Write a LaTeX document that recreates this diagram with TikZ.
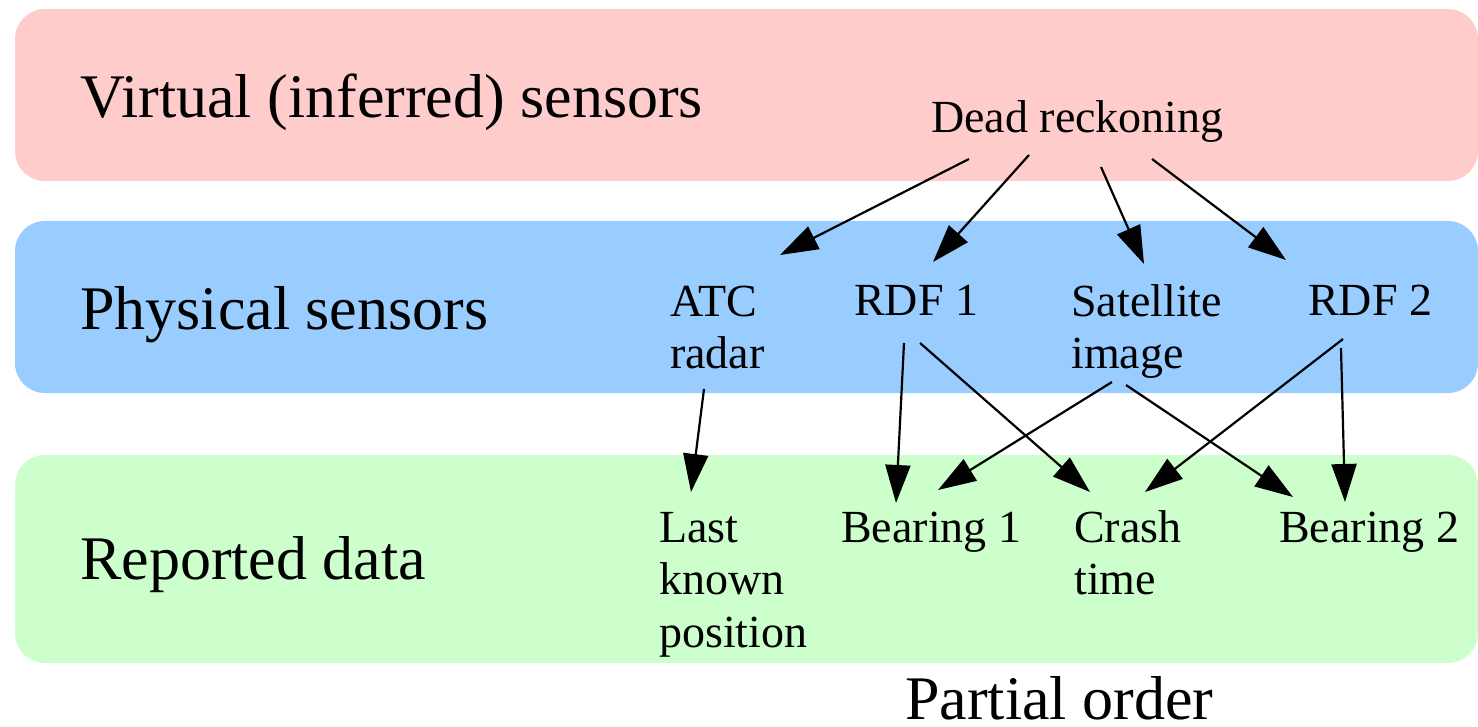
\documentclass[tikz,border=0pt]{standalone}
\usepackage{fontspec}
\setmainfont{Liberation Serif}
\usetikzlibrary{arrows.meta}
\definecolor{virtualband}{HTML}{FFCCCC}
\definecolor{physband}{HTML}{99CCFF}
\definecolor{reportband}{HTML}{CCFFCC}
\tikzset{
  band/.style={rounded corners=30pt},
  bandlabel/.style={anchor=base west, inner sep=0pt, font=\fontsize{62}{74}\selectfont},
  item/.style={anchor=base west, inner sep=0pt, align=left, font=\fontsize{46}{52.5}\selectfont},
  arr/.style={line width=2.2pt, -{Triangle[length=38pt, width=25pt]}}
}
\begin{document}
\begin{tikzpicture}[x=1pt, y=-1pt]
\useasboundingbox (0,0) rectangle (1478,727);
% bands
\fill[virtualband, band] (15,9) rectangle (1478,181);
\fill[physband, band] (15,221) rectangle (1478,393);
\fill[reportband, band] (15,455) rectangle (1478,663);
% band labels
\node[bandlabel] (vlab) at (80,118) {Virtual (inferred) sensors};
\node[bandlabel] (plab) at (80,330) {Physical sensors};
\node[bandlabel] (rlab) at (80,579) {Reported data};
\node[bandlabel] (po) at (905,719) {Partial order};
% items (multi-line nodes are anchored at the baseline of their last line)
\node[item] (dr) at (931,133) {Dead reckoning};
\node[item] (atc) at (670,368.5) {ATC\\radar};
\node[item] (rdf1) at (854,316) {RDF 1};
\node[item] (sat) at (1071,368.5) {Satellite\\image};
\node[item] (rdf2) at (1308,316) {RDF 2};
\node[item] (last) at (659,647) {Last\\known\\position};
\node[item] (b1) at (841,542) {Bearing 1};
\node[item] (crash) at (1074,594.5) {Crash\\time};
\node[item] (b2) at (1279,542) {Bearing 2};
% connectors
\draw[arr] ([shift={(38,26)}]dr.base west) -- ([shift={(110,-113.5)}]atc.base west);
\draw[arr] ([shift={(98,22)}]dr.base west) -- ([shift={(79,-54)}]rdf1.base west);
\draw[arr] ([shift={(170,34)}]dr.base west) -- ([shift={(73,-104.5)}]sat.base west);
\draw[arr] ([shift={(221,26)}]dr.base west) -- ([shift={(-22,-56)}]rdf2.base west);
\draw[arr] ([shift={(34,20.5)}]atc.base west) -- ([shift={(32,-155)}]last.base west);
\draw[arr] ([shift={(50,27)}]rdf1.base west) -- ([shift={(55,-39)}]b1.base west);
\draw[arr] ([shift={(66,27)}]rdf1.base west) -- ([shift={(16,-102.5)}]crash.base west);
\draw[arr] ([shift={(41,13.5)}]sat.base west) -- ([shift={(97,-52)}]b1.base west);
\draw[arr] ([shift={(55,16.5)}]sat.base west) -- ([shift={(14,-45)}]b2.base west);
\draw[arr] ([shift={(35,23)}]rdf2.base west) -- ([shift={(71,-102.5)}]crash.base west);
\draw[arr] ([shift={(33,32)}]rdf2.base west) -- ([shift={(66,-40)}]b2.base west);
\end{tikzpicture}
\end{document}
